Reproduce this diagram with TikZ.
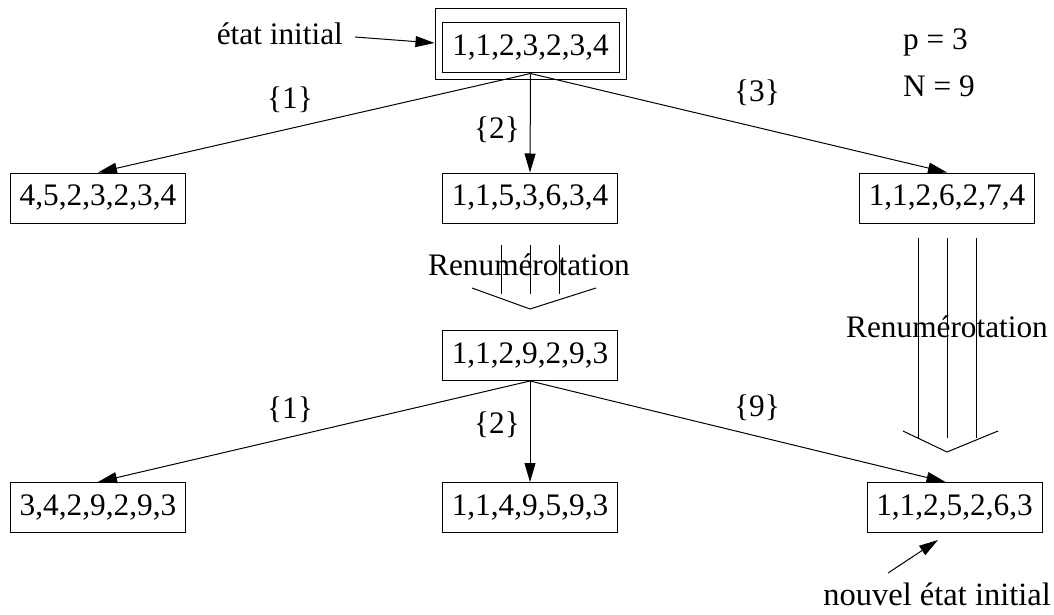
\documentclass[tikz,border=0pt]{standalone}
\usepackage{fontspec}
\setmainfont{Liberation Serif}
\usetikzlibrary{arrows.meta,fit}
\tikzset{
  box/.style={draw, line width=1pt, minimum width=175pt, minimum height=50pt, inner sep=0pt},
  arr/.style={line width=1pt, -{Triangle[length=19pt,width=11pt]}},
  lbl/.style={inner sep=0pt},
  bigln/.style={line width=1pt}
}
\begin{document}
\begin{tikzpicture}[x=1pt,y=-1pt,font=\fontsize{31.3}{36}\selectfont]
\useasboundingbox (0,0) rectangle (1054,615);
% nodes
\node[box, minimum width=177pt] (top) at (530.5,48) {1,1,2,3,2,3,4};
\coordinate (tp) at (530.5,15);
\node[draw, line width=1pt, fit=(top)(tp), inner sep=6.5pt] (topout) {};
\node[box] (A) at (98,198) {4,5,2,3,2,3,4};
\node[box] (B) at (530,198) {1,1,5,3,6,3,4};
\node[box] (C) at (947,198) {1,1,2,6,2,7,4};
\node[box] (M) at (530,355.5) {1,1,2,9,2,9,3};
\node[box] (D) at (98,507.5) {3,4,2,9,2,9,3};
\node[box] (E) at (530,507.5) {1,1,4,9,5,9,3};
\node[box] (F) at (954.5,507.5) {1,1,2,5,2,6,3};
% labels
\node[lbl, anchor=base east] (etat) at (343,45) {état initial};
\node[lbl, anchor=base east, font=\fontsize{32.5}{37}\selectfont] (nouv) at (1051,605) {nouvel état initial};
\node[lbl, anchor=base west] (p) at (903,50) {p = 3};
\node[lbl, anchor=base west] (n) at (903,97) {N = 9};
\node[lbl] (l1) at (290,100) {\{1\}};
\node[lbl] (l2) at (497,130) {\{2\}};
\node[lbl] (l3) at (757,93) {\{3\}};
\node[lbl] (m1) at (290,410) {\{1\}};
\node[lbl] (m2) at (497,425) {\{2\}};
\node[lbl] (m9) at (757,408) {\{9\}};
\node[lbl, anchor=base] (r1) at (529,275) {Renumérotation};
\node[lbl, anchor=base] (r2) at (947,337) {Renumérotation};
% connectors
\draw[arr] (top.south) -- (A.north);
\draw[arr] (top.south) -- (B.north);
\draw[arr] (top.south) -- (C.north);
\draw[arr] (M.south) -- (D.north);
\draw[arr] (M.south) -- (E.north);
\draw[arr] (M.south) -- ([xshift=-9pt]F.north);
\coordinate (ea) at (355,37);
\coordinate (na) at (888,573);
\coordinate (nt) at (938,540);
\draw[arr] (ea) -- (topout.west |- 0,43);
\draw[arr] (na) -- (nt);
% big arrows
\draw[bigln] (501,245) -- (501,294) (530,245) -- (530,294) (559,245) -- (559,294);
\draw[bigln] (472,288) -- (530,309) -- (596,288);
\draw[bigln] (918,238) -- (918,438) (947,238) -- (947,438) (976,238) -- (976,438);
\draw[bigln] (903,431) -- (947,452) -- (998,431);
\end{tikzpicture}
\end{document}
